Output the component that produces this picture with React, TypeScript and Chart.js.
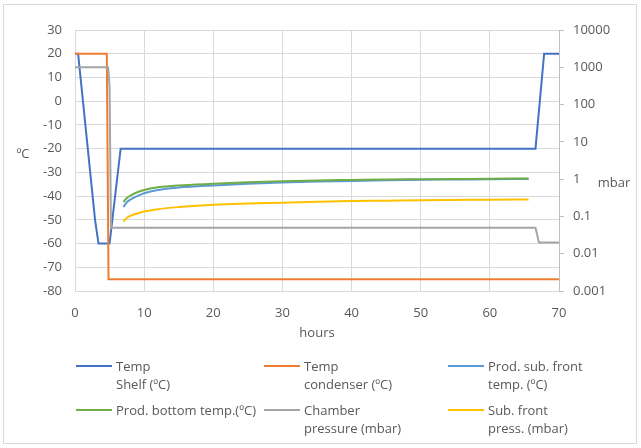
import React, { useEffect, useRef } from "react";
import { Chart, registerables } from "chart.js";
Chart.register(...registerables);

// ---- data ----
const hoursTicks = [0, 10, 20, 30, 40, 50, 60, 70];
const tempTicks = [30, 20, 10, 0, -10, -20, -30, -40, -50, -60, -70, -80];
const pressTicks = [10000, 1000, 100, 10, 1, 0.1, 0.01, 0.001];

const shelfHours = [0, 0.45, 2.9, 3.4, 5.0, 6.6, 66.6, 67.85, 70];
const shelfTemp = [20, 20, -50, -60, -60, -20, -20, 20, 20];

const condHours = [0, 4.6, 4.85, 70];
const condTemp = [20, 20, -75, -75];

const prodHours = [7, 7.5, 8, 9, 10, 12, 15, 20, 25, 30, 35, 40, 45, 50, 55, 60, 65.6];
const subFrontTemp = [-44.6, -42.6, -41.5, -40.0, -38.8, -37.4, -36.4, -35.5, -34.8, -34.3, -33.9, -33.6, -33.3, -33.1, -33.0, -32.9, -32.8];
const bottomTemp = [-42.5, -40.8, -39.8, -38.4, -37.4, -36.3, -35.5, -34.8, -34.2, -33.7, -33.4, -33.2, -33.0, -32.9, -32.8, -32.7, -32.6];
const subFrontPress = [0.073, 0.091, 0.104, 0.12, 0.135, 0.156, 0.178, 0.207, 0.222, 0.232, 0.246, 0.258, 0.265, 0.273, 0.277, 0.281, 0.285];

const chamberHours = [0, 4.8, 5.0, 5.2, 66.6, 67.1, 70];
const chamberPress = [1000, 1000, 300, 0.05, 0.05, 0.02, 0.02];

const seriesLabels = [
  ["Temp", "Shelf (ºC)"],
  ["Temp", "condenser (ºC)"],
  ["Prod. sub. front", "temp. (ºC)"],
  ["Prod. bottom temp.(ºC)"],
  ["Chamber", "pressure (mbar)"],
  ["Sub. front", "press. (mbar)"],
];
const seriesColors = ["#4472C4", "#ED7D31", "#5B9BD5", "#70AD47", "#A5A5A5", "#FFC000"];

// ---- layout ----
const W = 641;
const H = 448;
const FONT = "'Open Sans', sans-serif";
const TEXT = "#595959";
const GRID = "#d9d9d9";
const legendCols = [76, 264, 448];
const legendRows = [366, 410];

const pts = (xs: number[], ys: number[]) => xs.map((x, i) => ({ x, y: ys[i] }));

export default function App() {
  const ref = useRef<HTMLCanvasElement>(null);
  useEffect(() => {
    if (!ref.current) return;
    const series = [
      { d: pts(shelfHours, shelfTemp), axis: "y", smooth: false },
      { d: pts(condHours, condTemp), axis: "y", smooth: false },
      { d: pts(prodHours, subFrontTemp), axis: "y", smooth: true },
      { d: pts(prodHours, bottomTemp), axis: "y", smooth: true },
      { d: pts(chamberHours, chamberPress), axis: "y2", smooth: false },
      { d: pts(prodHours, subFrontPress), axis: "y2", smooth: true },
    ];
    const extras = {
      id: "extras",
      beforeDraw(chart: any) {
        const ctx = chart.ctx;
        ctx.save();
        ctx.fillStyle = "#ffffff";
        ctx.fillRect(0, 0, W, H);
        ctx.strokeStyle = GRID;
        ctx.lineWidth = 1;
        ctx.strokeRect(3.5, 4.5, 633, 439);
        ctx.restore();
      },
      afterDraw(chart: any) {
        const ctx = chart.ctx;
        ctx.save();
        ctx.font = `13px ${FONT}`;
        ctx.fillStyle = TEXT;
        ctx.textBaseline = "middle";
        ctx.textAlign = "center";
        ctx.fillText("ºC", 23, 154);
        ctx.fillText("mbar", 614, 183);
        ctx.fillText("hours", 317, 333);
        ctx.textAlign = "left";
        seriesLabels.forEach((lines, i) => {
          const cx = legendCols[i % 3];
          const cy = legendRows[Math.floor(i / 3)];
          ctx.strokeStyle = seriesColors[i];
          ctx.lineWidth = 2;
          ctx.beginPath();
          ctx.moveTo(cx, cy);
          ctx.lineTo(cx + 36, cy);
          ctx.stroke();
          lines.forEach((t, j) => ctx.fillText(t, cx + 40, cy + 1 + j * 18));
        });
        ctx.restore();
      },
    };
    const chart = new Chart(ref.current, {
      type: "line",
      data: {
        datasets: series.map((s, i) => ({
          label: seriesLabels[i].join(" "),
          data: s.d,
          yAxisID: s.axis,
          borderColor: seriesColors[i],
          backgroundColor: seriesColors[i],
          borderWidth: 2,
          pointRadius: 0,
          fill: false,
          cubicInterpolationMode: s.smooth ? "monotone" : "default",
          order: 10 - i,
        })),
      },
      options: {
        animation: false,
        responsive: false,
        parsing: true,
        layout: { padding: { top: 30, left: 0, right: 0, bottom: 117 } },
        plugins: { legend: { display: false }, tooltip: { enabled: false } },
        scales: {
          x: {
            type: "linear",
            min: 0,
            max: 70,
            afterBuildTicks: (s: any) => { s.ticks = hoursTicks.map((v) => ({ value: v })); },
            afterFit: (s: any) => { s.height = 40; },
            ticks: { color: TEXT, font: { family: FONT, size: 13 }, padding: 14, maxRotation: 0 },
            grid: { color: GRID, drawTicks: false },
            border: { color: GRID },
          },
          y: {
            type: "linear",
            position: "left",
            min: -80,
            max: 30,
            afterBuildTicks: (s: any) => { s.ticks = tempTicks.map((v) => ({ value: v })); },
            afterFit: (s: any) => { s.width = 75; },
            ticks: { color: TEXT, font: { family: FONT, size: 13 }, padding: 13 },
            grid: { color: GRID, drawTicks: false },
            border: { color: GRID },
          },
          y2: {
            type: "logarithmic",
            position: "right",
            min: 0.001,
            max: 10000,
            afterBuildTicks: (s: any) => { s.ticks = pressTicks.map((v) => ({ value: v })); },
            afterFit: (s: any) => { s.width = 82; },
            ticks: { color: TEXT, font: { family: FONT, size: 13 }, padding: 9, callback: (v: any) => String(v) },
            grid: { color: "#bfbfbf", drawOnChartArea: false, drawTicks: true, tickLength: 5 },
            border: { color: "#bfbfbf" },
          },
        },
      } as any,
      plugins: [extras],
    });
    return () => chart.destroy();
  }, []);
  return (
    <div style={{ position: "fixed", left: 0, top: 0, width: W, height: H, background: "#fff" }}>
      <canvas ref={ref} width={W} height={H} style={{ display: "block" }} />
    </div>
  );
}
